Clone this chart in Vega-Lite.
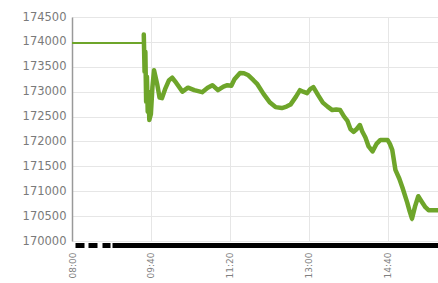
{
  "$schema": "https://vega.github.io/schema/vega-lite/v6.json",
  "width": 366,
  "height": 224,
  "autosize": {"type": "none"},
  "padding": {"left": 72, "top": 17, "right": 0, "bottom": 42},
  "background": "white",
  "config": {"view": {"stroke": null}},
  "data": {"values": [
    {"t": "2020-01-02T08:00:00Z", "v": 173980, "phase": "pre"},
    {"t": "2020-01-02T09:30:00Z", "v": 173980, "phase": "pre"},
    {"t": "2020-01-02T09:31:00Z", "v": 174150, "phase": "open"},
    {"t": "2020-01-02T09:32:00Z", "v": 173400, "phase": "open"},
    {"t": "2020-01-02T09:33:00Z", "v": 173800, "phase": "open"},
    {"t": "2020-01-02T09:34:00Z", "v": 172800, "phase": "open"},
    {"t": "2020-01-02T09:35:00Z", "v": 173300, "phase": "open"},
    {"t": "2020-01-02T09:36:00Z", "v": 172600, "phase": "open"},
    {"t": "2020-01-02T09:37:00Z", "v": 173000, "phase": "open"},
    {"t": "2020-01-02T09:38:00Z", "v": 172430, "phase": "open"},
    {"t": "2020-01-02T09:40:00Z", "v": 172550, "phase": "open"},
    {"t": "2020-01-02T09:42:00Z", "v": 173100, "phase": "open"},
    {"t": "2020-01-02T09:44:00Z", "v": 173430, "phase": "open"},
    {"t": "2020-01-02T09:48:00Z", "v": 173150, "phase": "open"},
    {"t": "2020-01-02T09:51:00Z", "v": 172880, "phase": "open"},
    {"t": "2020-01-02T09:54:00Z", "v": 172870, "phase": "open"},
    {"t": "2020-01-02T09:58:00Z", "v": 173050, "phase": "open"},
    {"t": "2020-01-02T10:03:00Z", "v": 173230, "phase": "open"},
    {"t": "2020-01-02T10:07:00Z", "v": 173280, "phase": "open"},
    {"t": "2020-01-02T10:12:00Z", "v": 173180, "phase": "open"},
    {"t": "2020-01-02T10:20:00Z", "v": 173000, "phase": "open"},
    {"t": "2020-01-02T10:27:00Z", "v": 173080, "phase": "open"},
    {"t": "2020-01-02T10:35:00Z", "v": 173030, "phase": "open"},
    {"t": "2020-01-02T10:45:00Z", "v": 172990, "phase": "open"},
    {"t": "2020-01-02T10:52:00Z", "v": 173080, "phase": "open"},
    {"t": "2020-01-02T10:58:00Z", "v": 173130, "phase": "open"},
    {"t": "2020-01-02T11:05:00Z", "v": 173030, "phase": "open"},
    {"t": "2020-01-02T11:12:00Z", "v": 173100, "phase": "open"},
    {"t": "2020-01-02T11:17:00Z", "v": 173130, "phase": "open"},
    {"t": "2020-01-02T11:22:00Z", "v": 173120, "phase": "open"},
    {"t": "2020-01-02T11:26:00Z", "v": 173250, "phase": "open"},
    {"t": "2020-01-02T11:33:00Z", "v": 173375, "phase": "open"},
    {"t": "2020-01-02T11:38:00Z", "v": 173370, "phase": "open"},
    {"t": "2020-01-02T11:43:00Z", "v": 173335, "phase": "open"},
    {"t": "2020-01-02T11:50:00Z", "v": 173230, "phase": "open"},
    {"t": "2020-01-02T11:55:00Z", "v": 173150, "phase": "open"},
    {"t": "2020-01-02T12:03:00Z", "v": 172950, "phase": "open"},
    {"t": "2020-01-02T12:11:00Z", "v": 172780, "phase": "open"},
    {"t": "2020-01-02T12:18:00Z", "v": 172690, "phase": "open"},
    {"t": "2020-01-02T12:26:00Z", "v": 172670, "phase": "open"},
    {"t": "2020-01-02T12:32:00Z", "v": 172700, "phase": "open"},
    {"t": "2020-01-02T12:37:00Z", "v": 172740, "phase": "open"},
    {"t": "2020-01-02T12:44:00Z", "v": 172900, "phase": "open"},
    {"t": "2020-01-02T12:49:00Z", "v": 173030, "phase": "open"},
    {"t": "2020-01-02T12:53:00Z", "v": 173000, "phase": "open"},
    {"t": "2020-01-02T12:58:00Z", "v": 172970, "phase": "open"},
    {"t": "2020-01-02T13:02:00Z", "v": 173050, "phase": "open"},
    {"t": "2020-01-02T13:06:00Z", "v": 173090, "phase": "open"},
    {"t": "2020-01-02T13:12:00Z", "v": 172930, "phase": "open"},
    {"t": "2020-01-02T13:18:00Z", "v": 172780, "phase": "open"},
    {"t": "2020-01-02T13:24:00Z", "v": 172700, "phase": "open"},
    {"t": "2020-01-02T13:30:00Z", "v": 172630, "phase": "open"},
    {"t": "2020-01-02T13:35:00Z", "v": 172640, "phase": "open"},
    {"t": "2020-01-02T13:40:00Z", "v": 172630, "phase": "open"},
    {"t": "2020-01-02T13:45:00Z", "v": 172500, "phase": "open"},
    {"t": "2020-01-02T13:49:00Z", "v": 172420, "phase": "open"},
    {"t": "2020-01-02T13:53:00Z", "v": 172250, "phase": "open"},
    {"t": "2020-01-02T13:57:00Z", "v": 172190, "phase": "open"},
    {"t": "2020-01-02T14:01:00Z", "v": 172250, "phase": "open"},
    {"t": "2020-01-02T14:05:00Z", "v": 172330, "phase": "open"},
    {"t": "2020-01-02T14:08:00Z", "v": 172200, "phase": "open"},
    {"t": "2020-01-02T14:12:00Z", "v": 172080, "phase": "open"},
    {"t": "2020-01-02T14:16:00Z", "v": 171900, "phase": "open"},
    {"t": "2020-01-02T14:21:00Z", "v": 171800, "phase": "open"},
    {"t": "2020-01-02T14:26:00Z", "v": 171950, "phase": "open"},
    {"t": "2020-01-02T14:31:00Z", "v": 172030, "phase": "open"},
    {"t": "2020-01-02T14:36:00Z", "v": 172030, "phase": "open"},
    {"t": "2020-01-02T14:40:00Z", "v": 172030, "phase": "open"},
    {"t": "2020-01-02T14:43:00Z", "v": 171950, "phase": "open"},
    {"t": "2020-01-02T14:46:00Z", "v": 171830, "phase": "open"},
    {"t": "2020-01-02T14:50:00Z", "v": 171430, "phase": "open"},
    {"t": "2020-01-02T14:55:00Z", "v": 171250, "phase": "open"},
    {"t": "2020-01-02T14:59:00Z", "v": 171070, "phase": "open"},
    {"t": "2020-01-02T15:05:00Z", "v": 170770, "phase": "open"},
    {"t": "2020-01-02T15:08:00Z", "v": 170600, "phase": "open"},
    {"t": "2020-01-02T15:11:00Z", "v": 170450, "phase": "open"},
    {"t": "2020-01-02T15:15:00Z", "v": 170700, "phase": "open"},
    {"t": "2020-01-02T15:19:00Z", "v": 170900, "phase": "open"},
    {"t": "2020-01-02T15:23:00Z", "v": 170800, "phase": "open"},
    {"t": "2020-01-02T15:28:00Z", "v": 170680, "phase": "open"},
    {"t": "2020-01-02T15:32:00Z", "v": 170620, "phase": "open"},
    {"t": "2020-01-02T15:44:00Z", "v": 170620, "phase": "open"}
  ]},
  "encoding": {
    "x": {
      "field": "t", "type": "temporal",
      "scale": {"type": "utc", "domain": [
        {"year": 2020, "month": 1, "date": 2, "hours": 8, "minutes": 0, "utc": true},
        {"year": 2020, "month": 1, "date": 2, "hours": 15, "minutes": 44, "utc": true}
      ]},
      "axis": {
        "title": null,
        "labelExpr": "utcFormat(datum.value, '%H:%M')",
        "values": [
          {"year": 2020, "month": 1, "date": 2, "hours": 8, "minutes": 0, "utc": true},
          {"year": 2020, "month": 1, "date": 2, "hours": 9, "minutes": 40, "utc": true},
          {"year": 2020, "month": 1, "date": 2, "hours": 11, "minutes": 20, "utc": true},
          {"year": 2020, "month": 1, "date": 2, "hours": 13, "minutes": 0, "utc": true},
          {"year": 2020, "month": 1, "date": 2, "hours": 14, "minutes": 40, "utc": true}
        ],
        "labelAngle": -90,
        "labelFont": "DejaVu Sans",
        "labelFontSize": 9,
        "labelColor": "#808080",
        "labelPadding": 7,
        "labelOverlap": false,
        "labelFlush": false,
        "ticks": false,
        "grid": true,
        "gridColor": "#e6e6e6",
        "gridWidth": 1,
        "offset": 4,
        "domainColor": "#000000",
        "domainWidth": 5,
        "domainDash": [9, 4, 9, 5, 8, 2, 400, 3],
        "domainDashOffset": 437
      }
    },
    "y": {
      "field": "v", "type": "quantitative",
      "scale": {"domain": [170000, 174500], "nice": false, "zero": false},
      "axis": {
        "title": null,
        "values": [170000, 170500, 171000, 171500, 172000, 172500, 173000, 173500, 174000, 174500],
        "format": "d",
        "labelFont": "DejaVu Sans",
        "labelFontSize": 11.5,
        "labelColor": "#7a7a7a",
        "labelPadding": 6,
        "ticks": false,
        "grid": true,
        "gridColor": "#e6e6e6",
        "gridWidth": 1,
        "domainColor": "#999999",
        "domainWidth": 1.5
      }
    }
  },
  "layer": [
    {"mark": {"type": "line", "color": "#6ea52a", "strokeWidth": 2}},
    {
      "transform": [{"filter": "datum.phase == 'open'"}],
      "mark": {"type": "line", "color": "#6ea52a", "strokeWidth": 4.5, "strokeCap": "round", "strokeJoin": "round"}
    }
  ]
}
